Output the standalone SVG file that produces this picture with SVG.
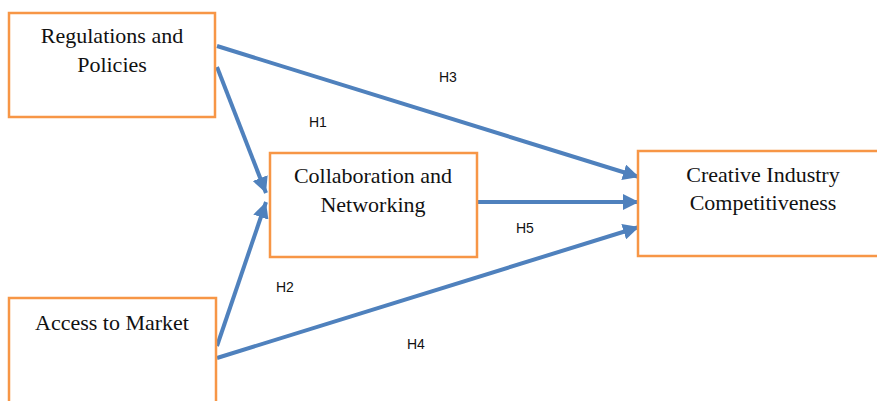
<svg xmlns="http://www.w3.org/2000/svg" width="877" height="401" viewBox="0 0 877 401">
<style>
.box{fill:#fff;stroke:#F79646;stroke-width:2.5}
.t{font-family:"Liberation Serif","DejaVu Serif",serif;font-size:22px;fill:#111;text-anchor:middle}
.h{font-family:"Liberation Sans","DejaVu Sans",sans-serif;font-size:14px;fill:#111}
.c{stroke:#4F81BD;stroke-width:4;fill:none;marker-end:url(#ah)}
</style>
<defs>
<marker id="ah" markerUnits="userSpaceOnUse" markerWidth="18" markerHeight="16" refX="16" refY="8" orient="auto">
<path d="M0,0 L16,8 L0,16 Z" fill="#4F81BD"/>
</marker>
</defs>
<rect width="877" height="401" fill="#fff"/>
<g id="connectors">
<line class="c" x1="217" y1="46" x2="639" y2="177"/>
<line class="c" x1="217" y1="67" x2="266" y2="193"/>
<line class="c" x1="217" y1="346" x2="266" y2="202"/>
<line class="c" x1="217" y1="358" x2="639" y2="227"/>
<line class="c" x1="478" y1="202" x2="639" y2="202"/>
</g>
<g id="regulations">
<rect class="box" x="9" y="13" width="206" height="104"/>
<text class="t" x="112" y="43">Regulations and</text>
<text class="t" x="112" y="72">Policies</text>
</g>
<g id="collaboration">
<rect class="box" x="270" y="153" width="207" height="104"/>
<text class="t" x="373" y="183">Collaboration and</text>
<text class="t" x="373" y="212">Networking</text>
</g>
<g id="creative">
<rect class="box" x="638" y="151" width="245" height="105"/>
<text class="t" x="763" y="182">Creative Industry</text>
<text class="t" x="763" y="210">Competitiveness</text>
</g>
<g id="access">
<rect class="box" x="9" y="298" width="207" height="110"/>
<text class="t" x="112" y="330">Access to Market</text>
</g>
<g id="labels">
<text class="h" x="439" y="82">H3</text>
<text class="h" x="309" y="127">H1</text>
<text class="h" x="516" y="233">H5</text>
<text class="h" x="276" y="292">H2</text>
<text class="h" x="407" y="349">H4</text>
</g>
</svg>
